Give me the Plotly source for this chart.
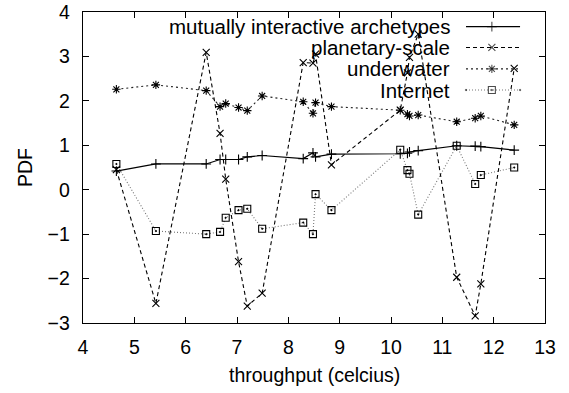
import plotly.graph_objects as go

x_vals = [4.65, 5.42, 6.40, 6.67, 6.78, 7.03, 7.20, 7.49, 8.29, 8.48, 8.53, 8.84,
          10.18, 10.32, 10.36, 10.53, 11.28, 11.64, 11.75, 12.40]
mutually = [0.42, 0.58, 0.58, 0.68, 0.68, 0.68, 0.74, 0.77, 0.70, 0.83, 0.74, 0.80,
            0.81, 0.82, 0.85, 0.88, 0.99, 0.98, 0.97, 0.89]
planetary = [0.45, -2.56, 3.09, 1.27, 0.24, -1.62, -2.62, -2.33, 2.86, 2.85, 3.05, 0.56,
             1.79, 2.63, 2.98, 3.50, -1.97, -2.84, -2.12, 2.73]
underwater = [2.26, 2.36, 2.23, 1.87, 1.94, 1.85, 1.78, 2.11, 1.98, 1.72, 1.96, 1.87,
              1.79, 1.70, 1.66, 1.68, 1.53, 1.61, 1.66, 1.46]
internet = [0.58, -0.93, -1.00, -0.95, -0.63, -0.46, -0.43, -0.88, -0.74, -1.00, -0.10, -0.46,
            0.90, 0.44, 0.36, -0.56, 0.99, 0.13, 0.33, 0.50]

names = ["mutually interactive archetypes", "planetary-scale", "underwater", "Internet"]
series = [mutually, planetary, underwater, internet]
styles = [
    dict(color="black", dash="solid", symbol="cross-thin-open", width=1.2),
    dict(color="black", dash="4px,3px", symbol="x-thin-open", width=1.1),
    dict(color="#222222", dash="2px,3px", symbol="asterisk-open", width=1.1),
    dict(color="#777777", dash="1px,2px", symbol="square-open-dot", width=1.1),
]

FONT = "Liberation Sans, Arial, sans-serif"
fig = go.Figure()

for name, ys, st in zip(names, series, styles):
    fig.add_trace(go.Scatter(
        x=x_vals, y=ys, mode="lines+markers", name=name, showlegend=False,
        line=dict(color=st["color"], dash=st["dash"], width=st["width"]),
        marker=dict(symbol=st["symbol"], size=7, color="black",
                    line=dict(width=1.1, color="black")),
    ))

# custom legend (text right-aligned, sample on the right), gnuplot style
leg_y = [0.953, 0.886, 0.817, 0.749]
for name, st, ly in zip(names, styles, leg_y):
    fig.add_trace(go.Scatter(
        x=[0.829, 0.885, 0.946], y=[ly, ly, ly], xaxis="x2", yaxis="y2",
        mode="lines+markers", showlegend=False, hoverinfo="skip",
        line=dict(color=st["color"], dash=st["dash"], width=st["width"]),
        marker=dict(symbol=st["symbol"], size=[0, 7, 0], color="black",
                    line=dict(width=1.1, color="black")),
    ))
    fig.add_annotation(x=0.799, y=ly, xref="paper", yref="paper", text=name,
                       showarrow=False, xanchor="right", yanchor="middle",
                       font=dict(family=FONT, size=20.5, color="black"))

# axis titles
fig.add_annotation(x=0.502, y=0, xref="paper", yref="paper", yshift=-52,
                   text="throughput (celcius)", showarrow=False,
                   xanchor="center", yanchor="middle",
                   font=dict(family=FONT, size=19.5, color="black"))
fig.add_annotation(x=0, y=0.498, xref="paper", yref="paper", xshift=-58,
                   text="PDF", showarrow=False, textangle=-90,
                   xanchor="center", yanchor="middle",
                   font=dict(family=FONT, size=19.5, color="black"))

axis_common = dict(showgrid=False, zeroline=False, showline=True, linecolor="black",
                   linewidth=1.3, mirror="ticks", ticks="inside", ticklen=6,
                   tickcolor="black", automargin=False, ticklabeloverflow="allow",
                   tickfont=dict(family=FONT, size=19.5, color="black"))

fig.update_layout(
    width=569, height=393,
    margin=dict(l=83, r=24, t=12, b=70),
    paper_bgcolor="white", plot_bgcolor="white",
    xaxis=dict(range=[4, 13], tickvals=list(range(4, 14)), ticklabelstandoff=6,
               **axis_common),
    yaxis=dict(range=[-3, 4], tickvals=list(range(-3, 5)), ticklabelstandoff=8,
               **axis_common),
    xaxis2=dict(range=[0, 1], overlaying="x", visible=False),
    yaxis2=dict(range=[0, 1], overlaying="y", visible=False),
    showlegend=False,
    hovermode=False,
)

fig.write_html("out.html", config={"displayModeBar": False, "staticPlot": True},
               post_script="document.body.style.margin='0';document.body.style.overflow='hidden';")
